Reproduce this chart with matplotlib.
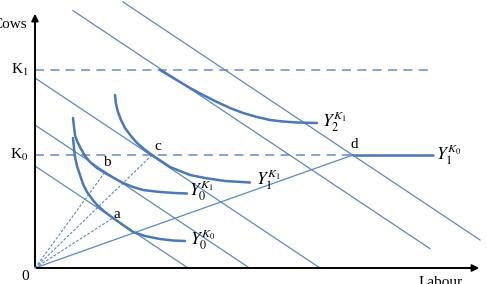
import numpy as np
import matplotlib
matplotlib.use("Agg")
import matplotlib.pyplot as plt

plt.rcParams['mathtext.fontset'] = 'stix'

# levels of cows
k_levels = {'K$_1$': 198, 'K$_0$': 113}
k1_end = 395
k0_end = 318

# parallel iso-cost lines: intercept on cows axis, start x, end x
iso_slope = -2.0 / 3.0
iso_intercepts = [102, 143, 190, 282.7, 324.7]
iso_x_start = [0, 0, 0, 38, 88]
iso_x_end = [153, 215, 285, 395, 445]

# tangency points
pt_names = ['a', 'b', 'c', 'd']
pt_x = [78, 70, 117, 318]
pt_y = [50, 96, 113, 113]
pt_lab_x = [82, 72, 123, 319]
pt_lab_y = [54, 106, 121, 123]

# isoquants
y0k0_x = [38, 39, 40, 42, 45, 48, 52, 57, 62, 70, 78, 88, 98, 110, 125, 138, 150]
y0k0_y = [130, 120, 111, 102, 93, 84, 76, 69, 63, 56, 50, 43, 36, 32, 29, 27.5, 27]
y0k1_x = [38, 39, 40, 42, 45, 50, 55, 62, 70, 79, 88, 98, 108, 125, 140, 152]
y0k1_y = [150, 141, 133, 127, 121, 112, 106, 100, 95, 90, 85, 81, 78, 76, 75, 74.5]
y1k1_x = [80, 81, 83, 86, 90, 96, 102, 109, 117, 126, 135, 145, 155, 170, 190, 215]
y1k1_y = [173, 164, 156, 148, 140, 132, 125, 119, 113, 107, 101, 97, 93, 90, 87, 85.5]
y2k1_x = [125, 140, 155, 168, 182, 195, 208, 222, 235, 248, 262, 282]
y2k1_y = [198, 189, 180, 173, 166, 160, 155, 151, 148, 146.5, 145.5, 145]
y1k0_x = [318, 398]
y1k0_y = [113, 113]

curve_labels = ['$Y_0^{K_0}$', '$Y_0^{K_1}$', '$Y_1^{K_1}$', '$Y_2^{K_1}$', '$Y_1^{K_0}$']
curve_lab_x = [155, 154, 221, 287, 401]
curve_lab_y = [28, 77, 88, 146, 113]

thin = '#5b88c6'
thick = '#4a78b8'
dash_c = '#7e9dcf'

fig = plt.figure(figsize=(4.87, 2.84), dpi=100)
ax = fig.add_axes([0, 0, 1, 1])
ax.set_xlim(-35, 452)
ax.set_ylim(-16, 268)
ax.axis('off')

# axes with arrows
ax.annotate('', xy=(447, 0), xytext=(-1, 0),
			arrowprops=dict(arrowstyle='-|>', color='black', lw=1.4, mutation_scale=10))
ax.annotate('', xy=(0, 257), xytext=(0, -1),
			arrowprops=dict(arrowstyle='-|>', color='black', lw=1.4, mutation_scale=10))

# dashed K lines
ax.plot([0, k1_end], [k_levels['K$_1$']] * 2, color=dash_c, lw=1.3, dashes=(5, 3.5))
ax.plot([0, k0_end], [k_levels['K$_0$']] * 2, color=dash_c, lw=1.3, dashes=(5, 3.5))

# iso-cost lines
for b, x0, x1 in zip(iso_intercepts, iso_x_start, iso_x_end):
	xs = np.array([x0, x1])
	ax.plot(xs, b + iso_slope * xs, color=thin, lw=0.9)

# rays from origin
for i, (px, py) in enumerate(zip(pt_x, pt_y)):
	if pt_names[i] == 'd':
		ax.plot([0, px], [0, py], color=thin, lw=0.9)
	else:
		ax.plot([0, px], [0, py], color=thin, lw=0.8, dashes=(2.5, 1.5))

# isoquants
for xs, ys in [(y0k0_x, y0k0_y), (y0k1_x, y0k1_y), (y1k1_x, y1k1_y),
			   (y2k1_x, y2k1_y), (y1k0_x, y1k0_y)]:
	ax.plot(xs, ys, color=thick, lw=1.8, solid_capstyle='round', solid_joinstyle='round')

serif = 'Liberation Serif'
for name, val in k_levels.items():
	ax.text(-7, val, name, ha='right', va='center', fontsize=11, family=serif)
ax.text(-10, -8, '0', ha='center', va='center', fontsize=11, family=serif)
ax.text(-8, 243, 'Cows', ha='right', va='center', fontsize=11, family=serif)
ax.text(384, -15, 'Labour', ha='left', va='center', fontsize=11, family=serif)

for n, lx, ly in zip(pt_names, pt_lab_x, pt_lab_y):
	ax.text(lx, ly, n, ha='center', va='center', fontsize=11, family=serif)

for s, lx, ly in zip(curve_labels, curve_lab_x, curve_lab_y):
	ax.text(lx, ly, s, ha='left', va='center', fontsize=12.5)

fig.savefig('out.png', dpi=100)
